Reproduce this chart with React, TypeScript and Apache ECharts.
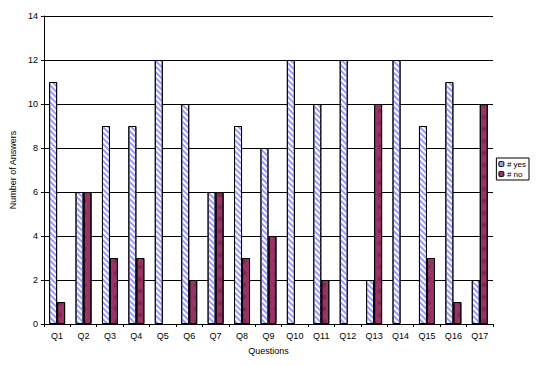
import React, { useEffect, useRef } from "react";
import * as echarts from "echarts";

const categories = ["Q1","Q2","Q3","Q4","Q5","Q6","Q7","Q8","Q9","Q10","Q11","Q12","Q13","Q14","Q15","Q16","Q17"];
const yesValues = [11, 6, 9, 9, 12, 10, 6, 9, 8, 12, 10, 12, 2, 12, 9, 11, 2];
const noValues = [1, 6, 3, 3, 0, 2, 6, 3, 4, 0, 2, 0, 10, 0, 3, 1, 10];
const yTicks = { min: 0, max: 14, interval: 2 };

export default function App() {
  const ref = useRef<HTMLDivElement>(null);
  useEffect(() => {
    const chart = echarts.init(ref.current!, null, { renderer: "svg" });
    const font = "Liberation Sans";
    const hideZero = (arr: number[]) => arr.map((v) => (v === 0 ? null : v));
    chart.setOption({
      animation: false,
      aria: { enabled: true, decal: { show: true } },
      textStyle: { fontFamily: font },
      grid: { left: 40, top: 16, right: 43, bottom: 42 },
      legend: {
        orient: "vertical",
        right: 7,
        top: 158,
        itemWidth: 5,
        itemHeight: 5,
        itemGap: 2,
        padding: [2, 3, 2, 2],
        borderColor: "#000",
        borderWidth: 1,
        borderRadius: 0,
        textStyle: { fontSize: 8, color: "#000", fontFamily: font, padding: [0, 0, 0, -2] },
        data: [
          { name: "# yes", itemStyle: { color: "#9999ff", borderColor: "#000", borderWidth: 1, decal: "none" } },
          { name: "# no", itemStyle: { color: "#993366", borderColor: "#000", borderWidth: 1, decal: "none" } },
        ],
      },
      xAxis: {
        type: "category",
        data: categories,
        name: "Questions",
        nameLocation: "middle",
        nameGap: 22,
        nameTextStyle: { fontSize: 9, color: "#000", fontFamily: font },
        axisLine: { lineStyle: { color: "#000", width: 1 } },
        axisTick: { show: true, length: 3, lineStyle: { color: "#000" } },
        axisLabel: { fontSize: 9, color: "#000", margin: 7, interval: 0 },
      },
      yAxis: {
        type: "value",
        min: yTicks.min,
        max: yTicks.max,
        interval: yTicks.interval,
        name: "Number of Answers",
        nameLocation: "middle",
        nameGap: 26,
        nameTextStyle: { fontSize: 9, color: "#000", fontFamily: font },
        axisLine: { show: true, lineStyle: { color: "#000", width: 1 } },
        axisTick: { show: true, length: 3, lineStyle: { color: "#000" } },
        axisLabel: { fontSize: 9, color: "#000", margin: 6 },
        splitLine: { show: true, lineStyle: { color: "#000", width: 1 } },
      },
      series: [
        {
          name: "# yes",
          type: "bar",
          data: hideZero(yesValues),
          barWidth: 8,
          barGap: "0%",
          itemStyle: {
            color: "#ffffff",
            borderColor: "#000",
            borderWidth: 1,
            decal: {
              symbol: "rect",
              symbolSize: 1,
              color: "#9999ff",
              dashArrayX: [1, 0],
              dashArrayY: [2, 2],
              rotation: Math.PI / 4,
            },
          },
        },
        {
          name: "# no",
          type: "bar",
          data: hideZero(noValues),
          barWidth: 8,
          barGap: "0%",
          itemStyle: { color: "#993366", borderColor: "#000", borderWidth: 1, decal: "none" },
        },
      ],
    });
    return () => chart.dispose();
  }, []);
  return <div ref={ref} style={{ width: 536, height: 366, position: "absolute", left: 0, top: 0, background: "#fff" }} />;
}
